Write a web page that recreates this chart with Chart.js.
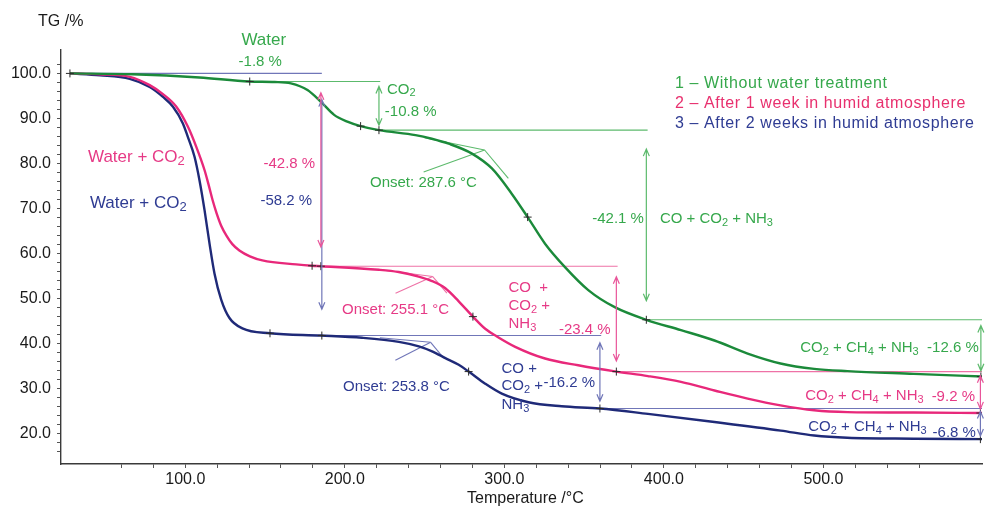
<!DOCTYPE html>
<html>
<head>
<meta charset="utf-8">
<title>TG curves</title>
<script src="https://cdn.jsdelivr.net/npm/chart.js@4/dist/chart.umd.min.js"></script>
<style>
  html, body { margin: 0; padding: 0; background: #fff; }
  canvas { display: block; }
</style>
</head>
<body>
<canvas id="tg" width="987" height="509"></canvas>
<script>
// ---- Measured curves: temperature (°C) and residual mass (%) ----
const tempUntreated = [27.7, 67.1, 108.9, 140.4, 156.0, 166.2, 176.6, 185.0, 193.3, 201.6, 209.9, 221.4, 244.3, 254.5, 265.1, 279.7, 292.2, 304.6, 314.6, 325.5, 338.0, 352.6, 369.2, 389.0, 410.7, 431.7, 452.5, 473.1, 494.2, 515.0, 556.6, 599.4];
const massUntreated = [100.0, 99.8, 99.1, 98.2, 98.1, 97.8, 96.3, 93.7, 90.8, 89.3, 88.3, 87.4, 86.3, 85.5, 84.4, 82.2, 78.9, 73.3, 68.1, 62.2, 57.0, 51.9, 48.1, 45.3, 43.0, 40.7, 37.8, 35.6, 34.4, 33.9, 33.3, 32.7];

const tempWeek1 = [27.7, 46.5, 65.2, 77.7, 86.0, 94.4, 101.6, 106.9, 112.1, 114.6, 117.1, 119.6, 122.5, 125.8, 129.5, 133.9, 140.5, 148.3, 169.5, 179.5, 185.0, 221.4, 233.8, 246.3, 254.7, 263.0, 271.4, 280.3, 288.0, 295.3, 306.8, 325.5, 346.3, 370.2, 390.0, 410.7, 431.7, 452.5, 473.1, 494.2, 515.0, 556.6, 599.4];
const massWeek1 = [100.0, 99.8, 99.25, 97.4, 95.4, 92.6, 88.2, 83.7, 78.5, 75.3, 71.9, 69.0, 66.2, 64.0, 62.1, 60.7, 59.4, 58.5, 57.6, 57.3, 57.2, 56.4, 55.9, 54.9, 53.9, 52.3, 49.4, 46.0, 43.3, 41.6, 39.3, 36.7, 35.2, 33.8, 32.8, 31.5, 29.6, 27.8, 26.3, 25.2, 24.8, 24.7, 24.6];

const tempWeek2 = [27.7, 46.5, 65.2, 77.7, 86.0, 92.3, 98.5, 101.6, 105.8, 108.9, 112.1, 115.2, 118.3, 122.5, 127.7, 135.8, 153.1, 185.0, 210.8, 233.9, 246.4, 254.7, 263.0, 271.4, 277.6, 288.0, 298.4, 315.1, 335.9, 359.9, 390.0, 431.7, 473.3, 494.2, 515.0, 556.6, 599.4];
const massWeek2 = [100.0, 99.6, 98.8, 97.0, 94.8, 92.6, 88.9, 85.9, 81.5, 76.3, 69.6, 62.2, 55.6, 49.8, 45.7, 43.4, 42.3, 41.8, 41.3, 40.4, 39.4, 38.3, 36.8, 35.3, 33.8, 31.1, 28.9, 27.0, 26.1, 25.6, 24.4, 22.6, 20.7, 19.6, 19.1, 18.9, 18.8];

// ---- Mass-loss steps: losses (%) and the temperatures where they are evaluated ----
const lossUntreated = [1.8, 10.8, 42.1, 12.6];
const stepTempUntreated = [140.4, 221.4, 389.0, 598.7];
const lossWeek1 = [42.8, 23.4, 9.2];
const stepTempWeek1 = [185.0, 370.2, 598.4];
const lossWeek2 = [58.2, 16.2, 6.8];
const stepTempWeek2 = [185.6, 359.9, 598.4];

// ---- Extra evaluation marks (plateau ends and inflection points) ----
const markTempUntreated = [27.7, 209.9, 314.6];
const markMassUntreated = [100.0, 88.3, 68.1];
const markTempWeek1 = [179.5, 280.3];
const markMassWeek1 = [57.3, 46.0];
const markTempWeek2 = [153.1, 277.6];
const markMassWeek2 = [42.3, 33.8];

// ---- Onset evaluation: onset temperature and tangent construction ----
const onsetTemps = [287.6, 255.1, 253.8];
const onsetMass = [83.0, 54.9, 40.3];
const tangentStartTemp = [250.0, 222.0, 222.0];
const tangentStartMass = [85.7, 56.4, 41.3];
const tangentEndTemp = [302.5, 264.0, 262.0];
const tangentEndMass = [76.7, 51.2, 36.8];
const leaderTemp = [249.4, 231.8, 231.7];
const leaderMass = [78.1, 51.2, 36.3];

// ---- Axis ranges and tick labels ----
const tempRange = [22.1, 599.4];
const massRange = [13.28, 105.2];
const tempTickLabels = [100, 200, 300, 400, 500];
const massTickLabels = [20, 30, 40, 50, 60, 70, 80, 90, 100];

const seriesNames = [
  '1 \u2013 Without water treatment',
  '2 \u2013 After 1 week in humid atmosphere',
  '3 \u2013 After 2 weeks in humid atmosphere'
];

// ---- Styling ----
const FONT = "'Liberation Sans', Arial, sans-serif";
const COL = {
  green: { curve: '#1b8a3a', text: '#36a84c', thin: '#5cba6c' },
  pink:  { curve: '#e8287a', text: '#e63a86', thin: '#ee72a6' },
  navy:  { curve: '#1f2a78', text: '#2f3c93', thin: '#7076b8' }
};
const MARK = '#2a2a2a';

const pts = (xs, ys) => xs.map((x, i) => ({ x, y: ys[i] }));
const levelsFrom = (start, losses) => {
  const out = [];
  let v = start;
  for (const l of losses) { v = Math.round((v - l) * 100) / 100; out.push(v); }
  return out;
};
const fmtLoss = l => '-' + l.toFixed(1) + ' %';
const fmtOnset = t => 'Onset: ' + t.toFixed(1) + ' \u00b0C';

const levU = levelsFrom(100, lossUntreated);   // 98.2, 87.4, 45.3, 32.7
const levW1 = levelsFrom(100, lossWeek1);       // 57.2, 33.8, 24.6
const levW2 = levelsFrom(100, lossWeek2);       // 41.8, 25.6, 18.8

// horizontal reference levels between consecutive evaluation points
function levelLines(stepT, levels, endT) {
  const lines = [];
  for (let i = 0; i < levels.length - 1; i++) {
    const x2 = i + 1 < stepT.length - 1 ? stepT[i + 1] + 0.8 : endT;
    lines.push([{ x: stepT[i], y: levels[i] }, { x: x2, y: levels[i] }]);
  }
  return lines;
}

const datasets = [];
function thinLine(data, color) {
  datasets.push({ type: 'line', data, borderColor: color, borderWidth: 1.1, pointRadius: 0, tension: 0, order: 5 });
}
function curve(data, color) {
  datasets.push({ type: 'line', data, borderColor: color, borderWidth: 2.4, pointRadius: 0,
    cubicInterpolationMode: 'monotone', order: 1 });
}
function marks(data) {
  datasets.push({ type: 'scatter', data, pointStyle: 'cross', pointRadius: 4, borderColor: MARK,
    borderWidth: 1, backgroundColor: MARK, order: 0 });
}

// reference levels
thinLine([{ x: tempWeek2[0], y: 100 }, { x: stepTempWeek2[0], y: 100 }], COL.navy.thin);
levelLines(stepTempUntreated, levU, tempRange[1]).forEach(l => thinLine(l, COL.green.thin));
levelLines(stepTempWeek1, levW1, tempRange[1]).forEach(l => thinLine(l, COL.pink.thin));
levelLines(stepTempWeek2, levW2, tempRange[1]).forEach(l => thinLine(l, COL.navy.thin));

// onset tangents
const thinCols = [COL.green.thin, COL.pink.thin, COL.navy.thin];
onsetTemps.forEach((t, i) => {
  const apex = { x: t, y: onsetMass[i] };
  thinLine([{ x: tangentStartTemp[i], y: tangentStartMass[i] }, apex], thinCols[i]);
  thinLine([apex, { x: tangentEndTemp[i], y: tangentEndMass[i] }], thinCols[i]);
  thinLine([{ x: leaderTemp[i], y: leaderMass[i] }, apex], thinCols[i]);
});

// curves
curve(pts(tempUntreated, massUntreated), COL.green.curve);
curve(pts(tempWeek1, massWeek1), COL.pink.curve);
curve(pts(tempWeek2, massWeek2), COL.navy.curve);

// evaluation marks
marks(pts(markTempUntreated, markMassUntreated).concat(pts(stepTempUntreated, levU)));
marks(pts(markTempWeek1, markMassWeek1).concat(pts(stepTempWeek1, levW1)));
marks(pts(markTempWeek2, markMassWeek2).concat(pts(stepTempWeek2, levW2)));

// ---- text with chemical subscripts: "CO_2" ----
function drawRich(ctx, str, x, y, align, size, color) {
  const parts = str.split(/(_\d)/).filter(s => s.length);
  const normal = size + 'px ' + FONT;
  const sub = Math.round(size * 0.74) + 'px ' + FONT;
  let total = 0;
  const widths = parts.map(p => {
    ctx.font = p[0] === '_' ? sub : normal;
    const w = ctx.measureText(p[0] === '_' ? p.slice(1) : p).width;
    total += w;
    return w;
  });
  let cx = align === 'right' ? x - total : align === 'center' ? x - total / 2 : x;
  const base = y + size * 0.36;
  ctx.fillStyle = color;
  ctx.textAlign = 'left';
  ctx.textBaseline = 'alphabetic';
  parts.forEach((p, i) => {
    const isSub = p[0] === '_';
    ctx.font = isSub ? sub : normal;
    ctx.fillText(isSub ? p.slice(1) : p, cx, isSub ? base + size * 0.18 : base);
    cx += widths[i];
  });
}

function arrow(ctx, x, y1, y2, color) {
  ctx.save();
  ctx.strokeStyle = color;
  ctx.lineWidth = 1.2;
  ctx.beginPath();
  ctx.moveTo(x, y1); ctx.lineTo(x, y2);
  const head = (ty, dir) => {
    ctx.moveTo(x - 3, ty + dir * 7); ctx.lineTo(x, ty); ctx.lineTo(x + 3, ty + dir * 7);
  };
  head(y1, 1); head(y2, -1);
  ctx.stroke();
  ctx.restore();
}

// annotation texts: [text, temperature, mass, alignment, colour, size]
const G = COL.green.text, P = COL.pink.text, N = COL.navy.text;
const notes = [
  ['TG /%', 7.7, 111.7, 'left', '#1a1a1a', 16],
  ['Temperature /\u00b0C', 313.2, 6.0, 'center', '#1a1a1a', 16],
  ['Water', 149.2, 107.6, 'center', G, 17],
  [fmtLoss(lossUntreated[0]), 147.0, 102.95, 'center', G],
  ['CO_2', 226.4, 96.74, 'left', G],
  [fmtLoss(lossUntreated[1]), 225.1, 91.7, 'left', G],
  [fmtOnset(onsetTemps[0]), 215.8, 75.9, 'left', G],
  [fmtLoss(lossUntreated[2]), 387.5, 67.9, 'right', G],
  ['CO + CO_2 + NH_3', 397.5, 67.9, 'left', G],
  ['CO_2 + CH_4 + NH_3', 485.5, 39.37, 'left', G],
  [fmtLoss(lossUntreated[3]), 597.4, 39.37, 'right', G],

  ['Water + CO_2', 39.0, 81.66, 'left', P, 17],
  [fmtLoss(lossWeek1[0]), 181.4, 80.26, 'right', P],
  [fmtOnset(onsetTemps[1]), 198.3, 47.88, 'left', P],
  ['CO  +', 302.6, 52.67, 'left', P],
  ['CO_2 +', 302.6, 48.61, 'left', P],
  ['NH_3', 302.6, 44.69, 'left', P],
  [fmtLoss(lossWeek1[1]), 366.6, 43.29, 'right', P],
  ['CO_2 + CH_4 + NH_3', 488.6, 28.65, 'left', P],
  [fmtLoss(lossWeek1[2]), 595.0, 28.5, 'right', P],

  ['Water + CO_2', 40.2, 71.5, 'left', N, 17],
  [fmtLoss(lossWeek2[0]), 179.5, 71.9, 'right', N],
  [fmtOnset(onsetTemps[2]), 198.9, 30.72, 'left', N],
  ['CO +', 298.2, 34.58, 'left', N],
  ['CO_2 +', 298.2, 30.87, 'left', N],
  ['NH_3', 298.2, 26.66, 'left', N],
  [fmtLoss(lossWeek2[1]), 356.9, 31.6, 'right', N],
  ['CO_2 + CH_4 + NH_3', 490.5, 21.85, 'left', N],
  [fmtLoss(lossWeek2[2]), 595.6, 20.5, 'right', N]
];
const legendAnchor = { t: 406.9, m: [98.14, 93.7, 89.27] };
const legendCols = ['#36a84c', '#e8306e', '#2f3c93'];

const annotations = {
  id: 'annotations',
  afterDatasetsDraw(chart) {
    const { ctx, scales: { x, y } } = chart;
    ctx.save();
    // step arrows, inset by a tenth of the step at each end
    const arrows = (stepT, losses, startLevel, color, skipFirst) => {
      let top = startLevel;
      losses.forEach((l, i) => {
        const bottom = top - l;
        if (!(skipFirst && i === 0)) {
          arrow(ctx, x.getPixelForValue(stepT[i]), y.getPixelForValue(top - l * 0.1),
            y.getPixelForValue(bottom + l * 0.1), color);
        }
        top = bottom;
      });
    };
    arrows(stepTempUntreated, lossUntreated, 100, COL.green.thin, true);
    arrows(stepTempWeek2, lossWeek2, 100, COL.navy.thin, false);
    arrows(stepTempWeek1, lossWeek1, 100, '#e9559a', false);

    notes.forEach(([txt, t, m, align, color, size]) => {
      drawRich(ctx, txt, x.getPixelForValue(t), y.getPixelForValue(m), align, size || 15, color);
    });

    ctx.letterSpacing = '0.6px';
    seriesNames.forEach((name, i) => {
      drawRich(ctx, name, x.getPixelForValue(legendAnchor.t), y.getPixelForValue(legendAnchor.m[i]),
        'left', 16, legendCols[i]);
    });
    ctx.letterSpacing = '0px';
    ctx.restore();
  }
};

const isMult = (v, s) => Math.abs(v / s - Math.round(v / s)) < 1e-6;

new Chart(document.getElementById('tg'), {
  data: { datasets },
  options: {
    responsive: false,
    animation: false,
    devicePixelRatio: 1,
    layout: { padding: { top: 50, right: 2, left: 0, bottom: 0 } },
    plugins: { legend: { display: false }, tooltip: { enabled: false } },
    scales: {
      x: {
        type: 'linear',
        position: 'bottom',
        min: tempRange[0],
        max: tempRange[1],
        afterFit: s => { s.height = 45; },
        border: { display: true, color: '#3a3a3a', width: 1.4 },
        grid: {
          display: true, drawOnChartArea: false, drawTicks: true, tickLength: 4,
          tickColor: c => (c.tick && isMult(c.tick.value, 20)) ? '#555' : 'rgba(0,0,0,0)'
        },
        ticks: {
          stepSize: 20, autoSkip: false, maxRotation: 0, padding: 2,
          color: '#1a1a1a', font: { family: FONT, size: 16 },
          callback: v => tempTickLabels.some(t => Math.abs(t - v) < 1e-6) ? v.toFixed(1) : ''
        }
      },
      y: {
        type: 'linear',
        position: 'left',
        min: massRange[0],
        max: massRange[1],
        afterFit: s => { s.width = 61; },
        border: { display: true, color: '#3a3a3a', width: 1.4 },
        grid: {
          display: true, drawOnChartArea: false, drawTicks: true, tickLength: 4,
          tickColor: c => (c.tick && isMult(c.tick.value, 2)) ? '#555' : 'rgba(0,0,0,0)'
        },
        ticks: {
          stepSize: 2, autoSkip: false, padding: 6,
          color: '#1a1a1a', font: { family: FONT, size: 16 },
          callback: v => massTickLabels.some(t => Math.abs(t - v) < 1e-6) ? v.toFixed(1) : ''
        }
      }
    }
  },
  plugins: [annotations]
});
</script>
</body>
</html>
